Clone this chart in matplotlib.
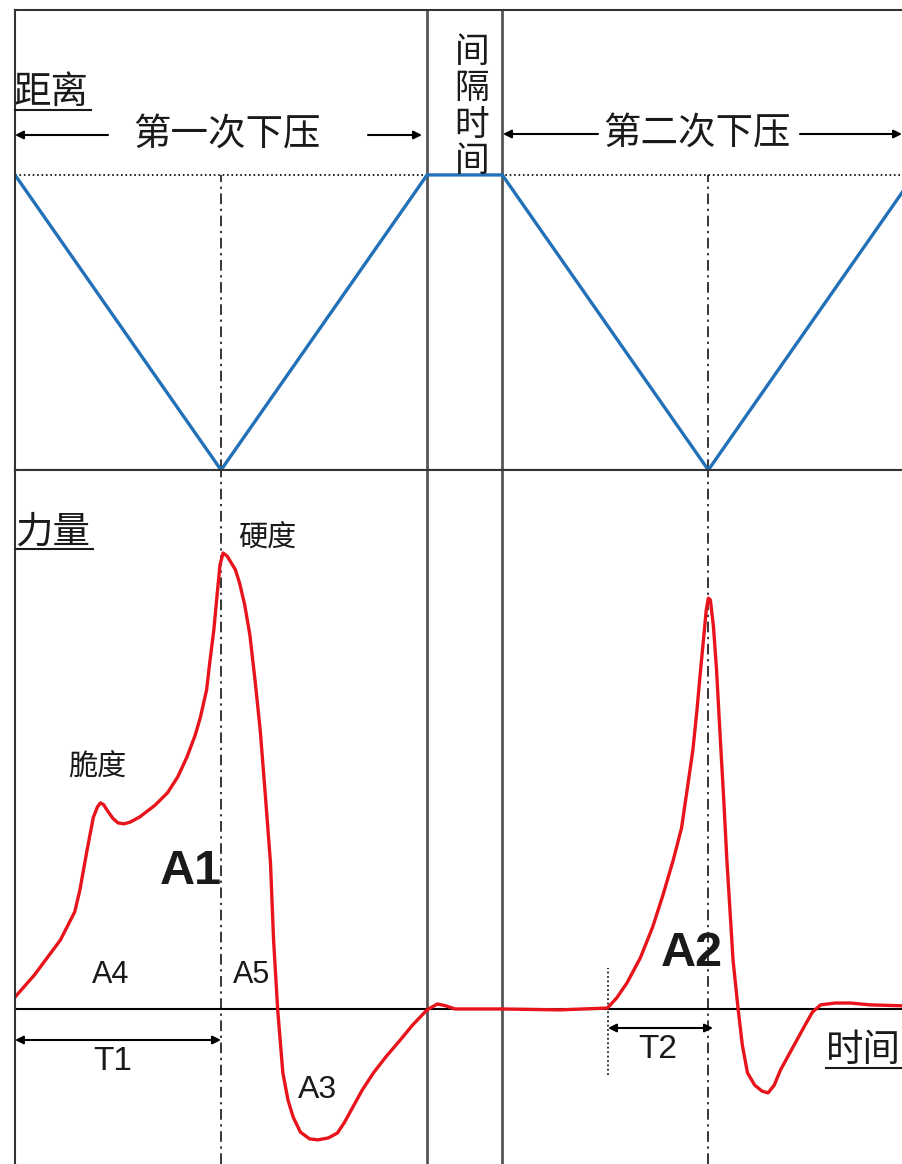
import matplotlib
matplotlib.use("Agg")
import matplotlib.pyplot as plt
import numpy as np

# --- data (time in arbitrary units, distance 0..1, force relative to peak 1 = 100)
dist_t = [0.0, 2.0, 4.0, 4.73, 6.73, 8.73]
dist_v = [1.0, 0.0, 1.0, 1.0, 0.0, 1.0]

force_t = [0.00, 0.19, 0.44, 0.58, 0.63, 0.70, 0.76, 0.80, 0.83, 0.86, 0.90, 0.95, 1.00, 1.06, 1.12, 1.21,
           1.36, 1.48, 1.58, 1.67, 1.75, 1.80, 1.86, 1.89, 1.93, 1.96, 1.99, 2.02,
           2.06, 2.14, 2.18, 2.23, 2.28, 2.33, 2.38, 2.43, 2.48, 2.51, 2.55, 2.60,
           2.65, 2.70, 2.77, 2.86, 2.94, 3.04, 3.13, 3.20, 3.28, 3.37, 3.48, 3.60,
           3.74, 3.86, 4.00, 4.10, 4.18, 4.27, 4.71, 5.29, 5.75, 5.84, 5.94, 6.07,
           6.19, 6.29, 6.39, 6.47, 6.52, 6.58, 6.62, 6.65, 6.68, 6.71, 6.73, 6.75,
           6.78, 6.81, 6.84, 6.88, 6.91, 6.94, 6.97, 7.02, 7.06, 7.11, 7.18, 7.25,
           7.31, 7.37, 7.43, 7.51, 7.59, 7.67, 7.74, 7.82, 7.96, 8.11, 8.30, 8.61]
force_v = [2.6, 7.5, 15.1, 21.3, 26.1, 34.9, 42.0, 44.3, 45.2, 44.8, 43.4, 41.8, 40.8, 40.6, 41.0, 42.1,
           44.7, 47.4, 50.9, 55.3, 60.1, 64.0, 70.0, 75.9, 83.1, 90.4, 97.4, 100.0,
           99.3, 96.3, 93.4, 88.6, 82.0, 72.1, 61.2, 46.9, 32.0, 15.1, -0.2, -14.0,
           -20.0, -23.7, -27.0, -28.5, -28.7, -28.3, -27.2, -24.8, -21.5, -17.8, -14.0, -10.5,
           -6.8, -3.5, -0.2, 1.1, 0.7, 0.0, 0.0, -0.2, 0.2, 2.4, 5.7, 11.2,
           18.0, 25.0, 32.7, 39.7, 47.4, 56.8, 65.6, 73.2, 80.3, 87.5, 90.1, 89.7,
           83.8, 74.3, 61.8, 45.8, 32.7, 21.7, 10.7, -0.2, -7.9, -14.0, -16.7, -18.0,
           -18.4, -16.7, -13.4, -10.1, -6.8, -3.5, -0.7, 0.9, 1.3, 1.3, 0.9, 0.7]

press1_end = 4.0
press2_start = 4.73
peak_times = [2.0, 6.73]
t2_start = 5.76

cjk = ['Noto Sans CJK SC', 'DejaVu Sans']
lat = ['Liberation Sans', 'DejaVu Sans']
blue = '#2170B8'
red = '#E8141B'
frame = '#333333'

fig = plt.figure(figsize=(9.02, 11.64), dpi=100)
W, H = 902, 1164
x0 = 15 / W
ax_top = fig.add_axes([x0, (H - 470) / H, 1 - x0, 460 / H])
ax_bot = fig.add_axes([x0, 0, 1 - x0, 694 / H])

for ax in (ax_top, ax_bot):
    ax.set_xlim(0, 8.61)
    ax.set_xticks([])
    ax.set_yticks([])
    ax.spines['right'].set_visible(False)
    for s in ax.spines.values():
        s.set_color(frame)
        s.set_linewidth(1.5)
    ax.axvline(press1_end, color='#555555', lw=2)
    ax.axvline(press2_start, color='#555555', lw=2)
ax_bot.spines['bottom'].set_visible(False)

# top panel: distance
ax_top.set_ylim(0, 1.559)
ax_top.axhline(1.0, color='black', ls=':', lw=1.2)
for pt in peak_times:
    ax_top.vlines(pt, 0, 1, color='black', lw=1.1, linestyles=(0, (7, 3, 1.5, 3)))
ax_top.plot(dist_t, dist_v, color=blue, lw=2.4, solid_joinstyle='miter')

# bottom panel: force
ax_bot.set_ylim(-34.0, 118.2)
ax_bot.axhline(0, color='black', lw=1.5)
for pt in peak_times:
    ax_bot.axvline(pt, color='black', lw=1.1, ls=(0, (7, 3, 1.5, 3)))
ax_bot.vlines(t2_start, -14.5, 9.0, color='black', lw=1.2, linestyles=':')
ax_bot.plot(force_t, force_v, color=red, lw=2.4, solid_joinstyle='round')

# overlay in pixel coordinates for labels
ov = fig.add_axes([0, 0, 1, 1], zorder=5)
ov.set_xlim(0, W)
ov.set_ylim(H, 0)
ov.axis('off')
ov.patch.set_alpha(0)

tc = '#1a1a1a'
def label(x, y, s, size, fam=cjk, **kw):
    ov.text(x, y, s, fontsize=size, family=fam, color=tc, ha=kw.pop('ha', 'center'),
            va='center', **kw)

def arrow(xa, ya, xb, yb, style='-|>'):
    ov.annotate('', xy=(xb, yb), xytext=(xa, ya),
                arrowprops=dict(arrowstyle=style, color='black', lw=1.5,
                                mutation_scale=12, shrinkA=0, shrinkB=0))

label(14, 92, '距离', 27, ha='left')
ov.plot([15, 91], [110, 110], color=tc, lw=1.5)
label(227, 135, '第一次下压', 27)
arrow(108, 135, 15, 135)
arrow(368, 135, 422, 135)
label(472, 107, '\n'.join('间隔时间'), 25, linespacing=1.05)
label(697, 134, '第二次下压', 27)
arrow(598, 134, 503, 134)
arrow(800, 134, 902, 134)

label(15, 532, '力量', 27, ha='left')
ov.plot([16, 93], [549, 549], color=tc, lw=1.5)
label(267, 538, '硬度', 21)
label(97, 767, '脆度', 21)
label(191, 872, 'A1', 35, fam=lat, fontweight='bold')
label(692, 953, 'A2', 35, fam=lat, fontweight='bold')
label(111, 975, 'A4', 22, fam=lat)
label(252, 975, 'A5', 22, fam=lat)
label(318, 1090, 'A3', 23, fam=lat)

arrow(15, 1040, 221, 1040, style='<|-|>')
label(113, 1062, 'T1', 24, fam=lat)
arrow(608, 1028, 713, 1028, style='<|-|>')
label(658, 1050, 'T2', 24, fam=lat)
label(863, 1050, '时间', 27)
ov.plot([826, 902], [1068, 1068], color=tc, lw=1.5)

fig.savefig('out.png', dpi=100, facecolor='white')
